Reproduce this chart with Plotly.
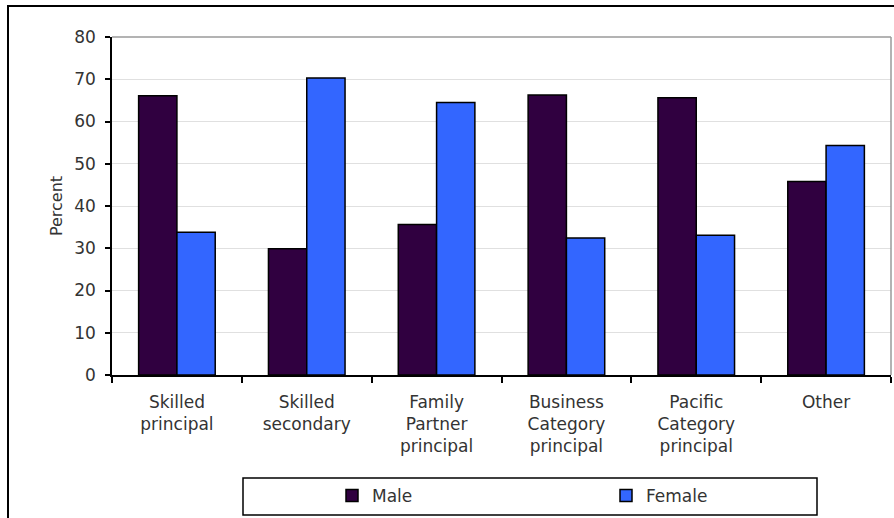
import plotly.graph_objects as go

categories = [
    "Skilled<br>principal",
    "Skilled<br>secondary",
    "Family<br>Partner<br>principal",
    "Business<br>Category<br>principal",
    "Pacific<br>Category<br>principal",
    "Other",
]
male = [66.1, 29.9, 35.6, 66.3, 65.6, 45.8]
female = [33.8, 70.3, 64.5, 32.4, 33.1, 54.3]
y_ticks = [0, 10, 20, 30, 40, 50, 60, 70, 80]

W, H = 894, 518
L, R, T, B = 112, 3, 37, 143
pw, ph = W - L - R, H - T - B

def px_x(x):
    return (x - L) / pw

def px_y(y):
    return (H - B - y) / ph

font = "DejaVu Sans"
text_col = "#333333"

fig = go.Figure()
fig.add_trace(go.Bar(
    name="Male", x=categories, y=male, legend="legend",
    marker=dict(color="#300040", line=dict(color="#000000", width=1.5)),
))
fig.add_trace(go.Bar(
    name="Female", x=categories, y=female, legend="legend2",
    marker=dict(color="#3366FF", line=dict(color="#000000", width=1.5)),
))

shapes = [
    # outer chart frame
    dict(type="rect", xref="paper", yref="paper",
         x0=px_x(8), x1=px_x(905), y0=px_y(530), y1=px_y(6),
         line=dict(color="#000000", width=2), layer="below"),
    # plot area top and right border
    dict(type="line", xref="paper", yref="paper", x0=0, x1=1, y0=1, y1=1,
         line=dict(color="#9a9a9a", width=1.5)),
    dict(type="line", xref="paper", yref="paper", x0=1, x1=1, y0=0, y1=1,
         line=dict(color="#9a9a9a", width=1.5)),
    # legend box
    dict(type="rect", xref="paper", yref="paper",
         x0=px_x(243), x1=px_x(817), y0=px_y(515), y1=px_y(478),
         line=dict(color="#000000", width=1.5), fillcolor="white"),
]

legend_common = dict(
    orientation="h", xanchor="left", yanchor="middle",
    bgcolor="rgba(0,0,0,0)", borderwidth=0,
    font=dict(family=font, size=17, color=text_col),
    itemwidth=30,
)

fig.update_layout(
    width=W, height=H,
    margin=dict(l=L, r=R, t=T, b=B, pad=0),
    paper_bgcolor="white", plot_bgcolor="white",
    barmode="group", bargap=0.41, bargroupgap=0,
    font=dict(family=font, size=17, color=text_col),
    shapes=shapes,
    showlegend=True,
    legend=dict(x=px_x(332), y=px_y(496), **legend_common),
    legend2=dict(x=px_x(606), y=px_y(496), **legend_common),
    xaxis=dict(
        showline=True, linecolor="#000000", linewidth=1.5,
        ticks="outside", tickson="boundaries", ticklen=6, tickcolor="#000000", tickwidth=1.5,
        tickfont=dict(family=font, size=17, color=text_col),
        ticklabelstandoff=11,
        showgrid=False,
    ),
    yaxis=dict(
        range=[0, 80], tickvals=y_ticks,
        showline=True, linecolor="#000000", linewidth=1.5,
        ticks="outside", ticklen=5, tickcolor="#000000", tickwidth=1.5,
        tickfont=dict(family=font, size=17, color=text_col),
        ticklabelstandoff=6,
        showgrid=True, gridcolor="#e0e0e0", gridwidth=1,
        zeroline=False,
        title=dict(text="Percent", font=dict(family=font, size=16, color=text_col), standoff=8),
    ),
)

fig.write_html("out.html")
